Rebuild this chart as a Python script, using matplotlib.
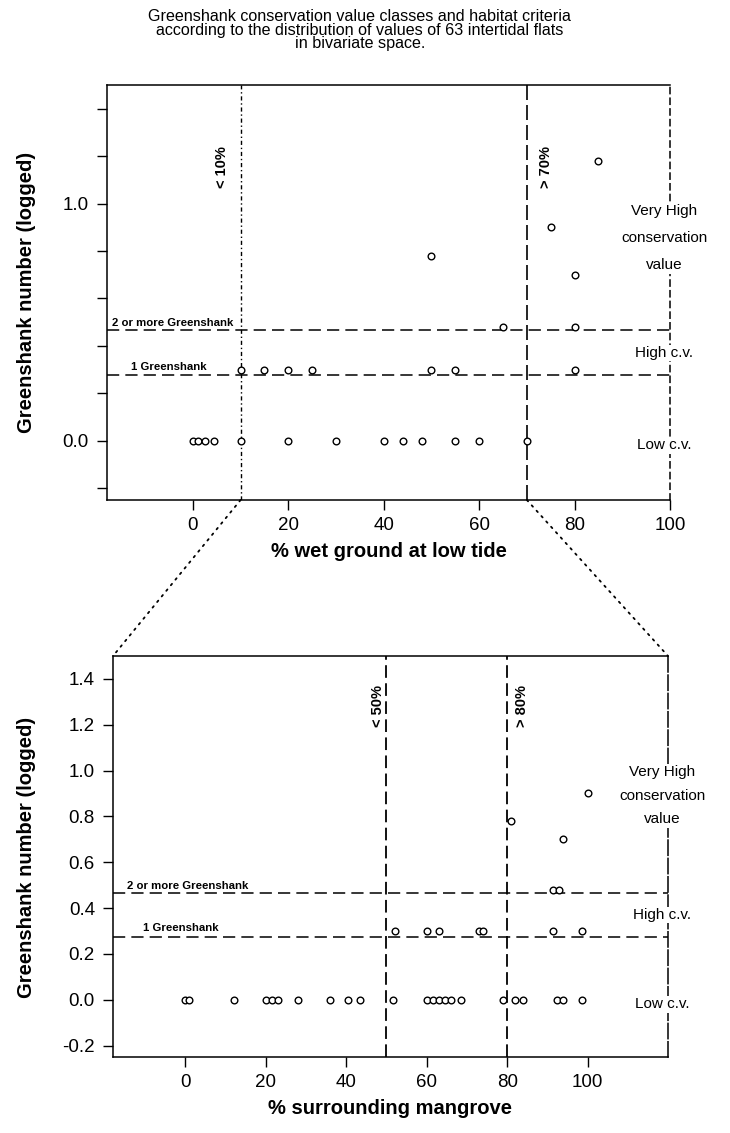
import numpy as np
import matplotlib.pyplot as plt
from matplotlib.patches import ConnectionPatch

plt.rcParams['font.family'] = ['Liberation Sans', 'DejaVu Sans']
plt.rcParams['axes.unicode_minus'] = False

# greenshank counts are log10(n + 1): 0 birds, 1 bird, 2 birds, more
row_none = 0.0
row_one = 0.30
row_two = 0.48

# class boundaries on the logged count axis
line_one = 0.275
line_two = 0.465

# % wet ground at low tide
wet_none = [0, 1, 2.5, 4.5, 10, 20, 30, 40, 44, 48, 55, 60, 70]
wet_one = [10, 15, 20, 25, 50, 55, 80]
wet_two = [65, 80]
wet_high_x = [50, 75, 80, 85]
wet_high_y = [0.78, 0.90, 0.70, 1.18]
wet_cuts = [10, 70]

# % surrounding mangrove
mang_none = [0, 1, 12, 20, 21.5, 23, 28, 36, 40.5, 43.5, 51.5, 60, 61.5, 63,
             64.5, 66, 68.5, 79, 82, 84, 92.5, 94, 98.5]
mang_one = [52, 60, 63, 73, 74, 91.5, 98.5]
mang_two = [91.5, 93]
mang_high_x = [81, 94, 100]
mang_high_y = [0.78, 0.70, 0.90]
mang_cuts = [50, 80]

x_ticks = [0, 20, 40, 60, 80, 100]
y_ticks = [-0.2, 0.0, 0.2, 0.4, 0.6, 0.8, 1.0, 1.2, 1.4]

title = ("Greenshank conservation value classes and habitat criteria\n"
         "according to the distribution of values of 63 intertidal flats\n"
         "in bivariate space.")


def style_panel(ax, xmax):
    ax.set_xlim(-18, xmax)
    ax.set_ylim(-0.25, 1.5)
    for side in ['left', 'bottom', 'top', 'right']:
        ax.spines[side].set_linewidth(1.1)
    ax.spines['right'].set_linestyle((0, (4, 3)))
    ax.set_xticks(x_ticks)
    ax.tick_params(direction='out', length=7, width=1, labelsize=13.5, pad=5)
    ax.tick_params(axis='y', pad=6)


def draw_points(ax, none, one, two, hx, hy):
    style = dict(ls='none', marker='o', ms=4.8, mfc='white', mec='black',
                 mew=1.0, zorder=5)
    ax.plot(none, [row_none] * len(none), **style)
    ax.plot(one, [row_one] * len(one), **style)
    ax.plot(two, [row_two] * len(two), **style)
    ax.plot(hx, hy, **style)


def class_lines(ax, x_text):
    dash = (0, (8, 4))
    ax.axhline(line_two, color='black', lw=1.1, ls=dash, zorder=2)
    ax.axhline(line_one, color='black', lw=1.1, ls=dash, zorder=2)
    ax.annotate('2 or more Greenshank', xy=(x_text, line_two), xytext=(0, 1.5),
                textcoords='offset points', ha='left', va='bottom',
                fontsize=8.2, fontweight='bold')
    ax.annotate('1 Greenshank', xy=(x_text + 4, line_one), xytext=(0, 2.5),
                textcoords='offset points', ha='left', va='bottom',
                fontsize=8.2, fontweight='bold')


def class_names(ax, high_y, mid_y, low_y, spacing):
    box = dict(facecolor='white', edgecolor='none', pad=1)
    tr = ax.get_yaxis_transform()
    ax.text(0.99, high_y, 'Very High\nconservation\nvalue', transform=tr,
            ha='center', va='center', fontsize=11, linespacing=spacing,
            bbox=box, zorder=6, clip_on=False)
    ax.text(0.99, mid_y, 'High c.v.', transform=tr, ha='center', va='center',
            fontsize=11, bbox=box, zorder=6, clip_on=False)
    ax.text(0.99, low_y, 'Low c.v.', transform=tr, ha='center', va='center',
            fontsize=11, bbox=box, zorder=6, clip_on=False)


fig = plt.figure(figsize=(7.3, 11.33), dpi=100)
fig.text(0.493, 1 - 30 / 1133, title, ha='center', va='center',
         fontsize=11.6, linespacing=0.86)

# upper panel: wet ground
ax1 = fig.add_axes([107 / 730, 1 - 500 / 1133, 563 / 730, 415 / 1133])
style_panel(ax1, 100)
ax1.set_yticks(y_ticks, ['' if abs(t) not in (0.0, 1.0) else f'{t:.1f}'
                         for t in y_ticks])
ax1.axvline(wet_cuts[0], color='black', lw=1.0, ls=(0, (3, 2, 1, 2)), zorder=2)
ax1.axvline(wet_cuts[1], color='black', lw=1.2, ls=(0, (9, 3)), zorder=2)
ax1.text(6, 1.155, '< 10%', rotation=90, ha='center', va='center',
         fontsize=10.5, fontweight='bold')
ax1.text(74, 1.155, '> 70%', rotation=90, ha='center', va='center',
         fontsize=10.5, fontweight='bold')
class_lines(ax1, -17)
draw_points(ax1, wet_none, wet_one, wet_two, wet_high_x, wet_high_y)
class_names(ax1, 0.855, 0.37, -0.02, 2.2)

# lower panel: surrounding mangrove
ax2 = fig.add_axes([113 / 730, 1 - 1057 / 1133, 555 / 730, 401 / 1133])
style_panel(ax2, 120)
ax2.spines['right'].set_linestyle((0, (10, 2)))
ax2.set_yticks(y_ticks, [f'{t:.1f}' for t in y_ticks])
for cut in mang_cuts:
    ax2.axvline(cut, color='black', lw=1.3, ls=(0, (7, 3)), zorder=2)
ax2.text(48, 1.28, '< 50%', rotation=90, ha='center', va='center',
         fontsize=10.5, fontweight='bold')
ax2.text(83.7, 1.28, '> 80%', rotation=90, ha='center', va='center',
         fontsize=10.5, fontweight='bold')
class_lines(ax2, -14.6)
draw_points(ax2, mang_none, mang_one, mang_two, mang_high_x, mang_high_y)
class_names(ax2, 0.89, 0.37, -0.02, 1.85)

# axis titles
for ax, label in [(ax1, '% wet ground at low tide'),
                  (ax2, '% surrounding mangrove')]:
    ax.set_xlabel(label, fontsize=14.5, fontweight='bold', labelpad=6)
fig.text(27 / 730, 1 - 292 / 1133, 'Greenshank number (logged)', rotation=90,
         ha='center', va='center', fontsize=14.5, fontweight='bold')
fig.text(27 / 730, 1 - 857 / 1133, 'Greenshank number (logged)', rotation=90,
         ha='center', va='center', fontsize=14.5, fontweight='bold')

# dotted guides from the wet-ground window to the lower panel
for cut, corner in zip(wet_cuts, [(0, 1), (1, 1)]):
    con = ConnectionPatch(xyA=(cut, 0), coordsA=ax1.get_xaxis_transform(),
                          xyB=corner, coordsB=ax2.transAxes,
                          ls=(0, (1, 3)), lw=1.3, color='black')
    fig.add_artist(con)

fig.savefig('out.png', dpi=100)
